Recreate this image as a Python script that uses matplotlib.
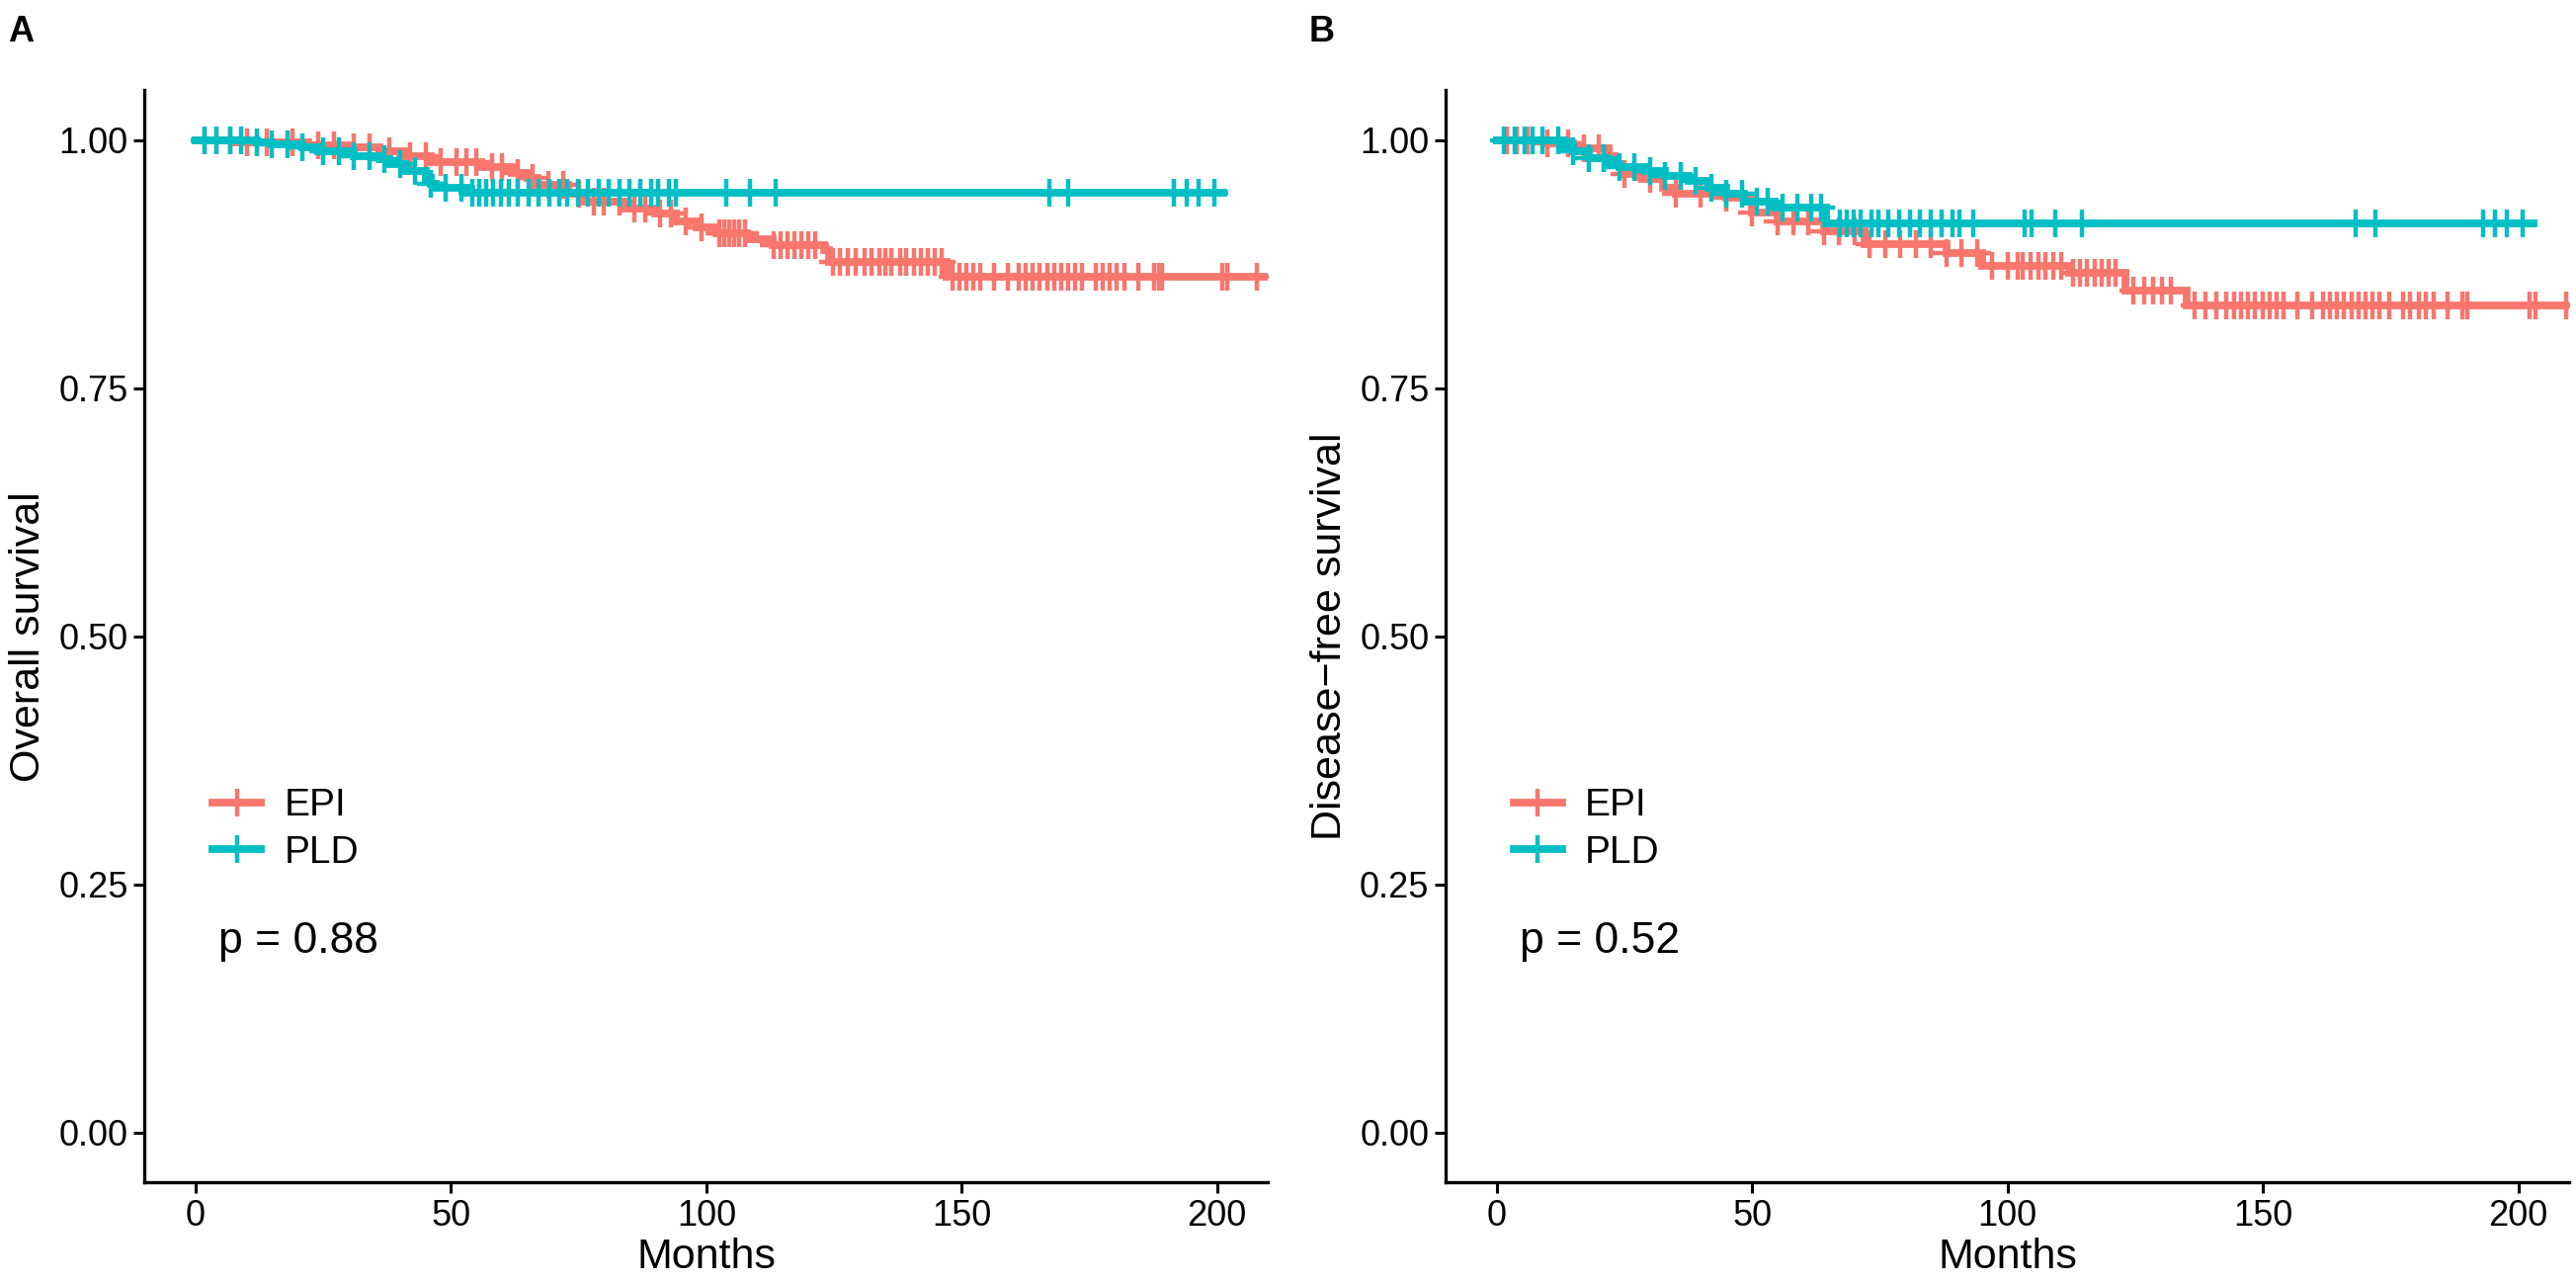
import matplotlib.pyplot as plt
from matplotlib.lines import Line2D
import numpy as np

plt.rcParams['font.family'] = ['Liberation Sans', 'DejaVu Sans']

groups = ["EPI", "PLD"]
colors = {"EPI": "#F8766D", "PLD": "#00BFC4"}

# panel A: overall survival (step times in months, survival after each step)
os_epi_t = [0, 8, 22, 30, 36, 41, 46, 56, 62, 65, 67, 73, 76, 84, 90, 94, 98, 102, 108, 113, 123, 124, 147]
os_epi_s = [1.0, 0.998, 0.995, 0.993, 0.989, 0.984, 0.978, 0.973, 0.967, 0.962, 0.955, 0.946, 0.938,
            0.931, 0.926, 0.918, 0.912, 0.906, 0.900, 0.894, 0.889, 0.877, 0.862]
os_epi_end = 215
os_epi_cens = [1.7, 4.1, 6.8, 10, 14, 19, 24, 27, 31, 34, 38, 42, 45, 48, 51, 53, 55, 58, 60, 63, 66,
               69, 72, 75, 78, 80, 83, 86, 88, 91, 93, 96, 99, 102.5, 103.5, 104.5, 105.5, 106.5, 107.5,
               113.2, 114.5, 115.9, 117.3, 118.7, 120.0, 121.4, 124.8, 126.2, 127.6, 129.3, 131.0, 132.4,
               133.8, 135.1, 136.2, 137.9, 139.2, 140.6, 142.0, 143.4, 144.7, 146.1, 148.2, 149.5, 150.9,
               152.3, 153.7, 156.4, 159.1, 161.2, 162.6, 163.9, 165.3, 166.7, 168.1, 169.4, 170.8, 172.2,
               173.5, 176.3, 177.7, 179.0, 180.4, 181.8, 184.5, 187.6, 188.6, 189.3, 201.0, 202.0, 207.8]

os_pld_t = [0, 12, 15, 21, 24, 31, 36, 38, 41, 45, 46, 47, 53]
os_pld_s = [1.0, 0.998, 0.996, 0.993, 0.989, 0.984, 0.981, 0.976, 0.969, 0.962, 0.956, 0.952, 0.947]
os_pld_end = 201.3
os_pld_cens = [1.7, 4.1, 6.8, 9, 12, 15, 18, 21, 25, 28, 31, 34, 37, 40, 43, 46, 49, 52, 54.2, 55.5,
               56.9, 58.3, 59.7, 61.4, 63.1, 65.2, 67.2, 69.3, 71.3, 72.7, 74.8, 76.8, 78.9, 80.9, 83.0,
               85.0, 87.1, 89.2, 90.5, 92.6, 94.0, 103.9, 108.5, 113.6, 167.1, 170.8, 191.5, 194.0,
               196.3, 199.5]

# panel B: disease-free survival
dfs_epi_t = [0, 10, 15, 22, 23, 24.5, 28.5, 32.5, 35, 45, 50, 55, 64, 72, 88, 95, 112, 123, 135]
dfs_epi_s = [1.0, 0.997, 0.992, 0.984, 0.975, 0.966, 0.961, 0.952, 0.946, 0.942, 0.927, 0.918, 0.908,
             0.895, 0.886, 0.873, 0.866, 0.848, 0.833]
dfs_epi_end = 215
dfs_epi_cens = [2, 4, 6, 10, 14, 17, 20, 25, 30, 35, 40, 45, 50, 55, 58, 61, 64, 67, 70, 73, 76, 79, 82,
                85, 88, 91, 94, 97, 100, 102, 103, 104.5, 106, 107.5, 109, 110.5, 112.8, 114.2, 115.6,
                117.0, 118.4, 119.8, 121.2, 124.7, 126.8, 128.5, 130.3, 132.0, 136.6, 138.7, 140.8,
                142.9, 144.3, 145.7, 147.1, 148.5, 149.9, 151.3, 152.7, 154.0, 156.8, 159.6, 161.7,
                163.1, 164.5, 165.9, 167.3, 168.7, 170.1, 171.5, 172.9, 174.7, 177.5, 178.9, 180.6,
                182.0, 183.4, 186.2, 189.0, 190.1, 202.3, 203.4, 209.3]

dfs_pld_t = [0, 9, 13, 15, 18, 21.5, 24, 29, 33, 37.5, 41.5, 45, 48.5, 54.5, 64.5]
dfs_pld_s = [1.0, 0.9995, 0.994, 0.989, 0.982, 0.976, 0.973, 0.969, 0.964, 0.959, 0.952, 0.946, 0.938,
             0.932, 0.916]
dfs_pld_end = 202.9
dfs_pld_cens = [1.5, 3.5, 5.5, 7, 9, 12, 15, 18, 21, 24, 27, 30, 33, 36, 39, 42, 45, 48, 51, 53, 56.0,
                58.8, 61.5, 63.6, 67.1, 68.5, 69.8, 71.2, 73.3, 74.7, 76.7, 78.8, 80.9, 82.9, 85.0,
                87.1, 89.2, 90.5, 93.3, 103.3, 104.7, 109.3, 114.5, 168.2, 172.1, 193.1, 195.4, 197.8,
                200.9]

panels = [
    ("A", "Overall survival", "p = 0.88",
     {"EPI": (os_epi_t, os_epi_s, os_epi_end, os_epi_cens),
      "PLD": (os_pld_t, os_pld_s, os_pld_end, os_pld_cens)}),
    ("B", "Disease\u2212free survival", "p = 0.52",
     {"EPI": (dfs_epi_t, dfs_epi_s, dfs_epi_end, dfs_epi_cens),
      "PLD": (dfs_pld_t, dfs_pld_s, dfs_pld_end, dfs_pld_cens)}),
]

fig = plt.figure(figsize=(26.07, 12.99), dpi=100)
lefts = [0.0561, 0.5612]
lw = 5.6
ms, mew = 20, 3.2

for (letter, ylab, ptxt, data), left in zip(panels, lefts):
    ax = fig.add_axes([left, 0.0794, 0.4362, 0.8502])
    for g in groups:
        t, s, end, cens = data[g]
        t = np.array(t, dtype=float)
        s = np.array(s, dtype=float)
        ax.step(np.append(t, end), np.append(s, s[-1]), where="post",
                color=colors[g], lw=lw, solid_joinstyle="miter")
        c = np.array(cens)
        idx = np.searchsorted(t, c, side="right") - 1
        ax.plot(c, s[idx], ls="none", marker="+", ms=ms, mew=mew, color=colors[g])

    ax.set_xlim(-10, 210)
    ax.set_ylim(-0.05, 1.05)
    ax.set_xticks([0, 50, 100, 150, 200])
    ax.set_yticks([0, 0.25, 0.5, 0.75, 1.0])
    ax.set_yticklabels(["0.00", "0.25", "0.50", "0.75", "1.00"])
    for sp in ["top", "right"]:
        ax.spines[sp].set_visible(False)
    for sp in ["left", "bottom"]:
        ax.spines[sp].set_linewidth(2.4)
    ax.tick_params(width=2.2, length=8, labelsize=26, colors="black", pad=4)
    ax.set_xlabel("Months", fontsize=31, labelpad=3)
    ax.set_ylabel(ylab, fontsize=31, labelpad=7)

    handles = [Line2D([], [], color=colors[g], lw=lw, marker="+", ms=ms, mew=mew) for g in groups]
    ax.legend(handles, groups, loc="center left", bbox_to_anchor=(0.03, 0.323), frameon=False,
              fontsize=28, handlelength=1.25, handletextpad=0.6, labelspacing=0.3)
    ax.text(0.066, 0.22, ptxt, transform=ax.transAxes, fontsize=32, va="center", ha="left")

    fig.text(left - 0.053, 0.975, letter, fontsize=26, fontweight="bold", va="center", ha="left")

fig.savefig("out.png", dpi=100)
